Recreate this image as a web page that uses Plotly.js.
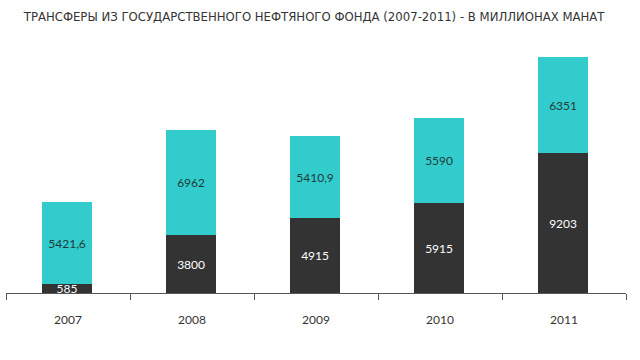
<!DOCTYPE html>
<html><head><meta charset="utf-8">
<script src="https://cdn.plot.ly/plotly-3.0.1.min.js"></script>
<style>html,body{margin:0;padding:0;background:#fff}</style>
</head><body><div id="chart" style="width:640px;height:360px"></div>
<script>
var years = ['2007','2008','2009','2010','2011'];
var bottomValues = [585, 3800, 4915, 5915, 9203];
var topValues = [5421.6, 6962, 5410.9, 5590, 6351];
var titleText = 'ТРАНСФЕРЫ ИЗ ГОСУДАРСТВЕННОГО НЕФТЯНОГО ФОНДА (2007-2011) - В МИЛЛИОНАХ МАНАТ';

function fmt(v){ return String(v).replace('.', ','); }

var traces = [
  {type:'bar', x:years, y:bottomValues, text:bottomValues.map(fmt), texttemplate:'%{text}',
   textposition:'inside', insidetextanchor:'middle', constraintext:'none',
   marker:{color:'#333333'}, textfont:{color:'#ffffff', family:'Lato, Open Sans, sans-serif', size:12},
   hoverinfo:'none', width:0.405, offset:-0.21},
  {type:'bar', x:years, y:topValues, text:topValues.map(fmt), texttemplate:'%{text}',
   textposition:'inside', insidetextanchor:'middle', constraintext:'none',
   marker:{color:'#33CCCC'}, textfont:{color:'#1f3a3a', family:'Lato, Open Sans, sans-serif', size:12},
   hoverinfo:'none', width:0.405, offset:-0.21}
];

var layout = {
  width:640, height:360, barmode:'stack', showlegend:false,
  paper_bgcolor:'#ffffff', plot_bgcolor:'#ffffff',
  margin:{l:6, r:14, t:40, b:67},
  uniformtext:{mode:'show', minsize:12},
  title:{text:titleText, x:0.497, xref:'paper', xanchor:'center', y:0.953, yanchor:'middle',
         font:{family:'DejaVu Sans Condensed, DejaVu Sans, sans-serif', size:13, color:'#333333'}},
  xaxis:{type:'category', showline:true, linecolor:'#555555', linewidth:1,
         ticks:'outside', tickson:'boundaries', ticklen:6, tickcolor:'#555555', tickwidth:1,
         ticklabelstandoff:16, showgrid:false, zeroline:false,
         tickfont:{family:'Lato, Open Sans, sans-serif', size:12, color:'#333333'}},
  yaxis:{range:[0,16678], visible:false, showgrid:false, zeroline:false}
};
Plotly.newPlot('chart', traces, layout, {staticPlot:true, displayModeBar:false});
</script></body></html>
